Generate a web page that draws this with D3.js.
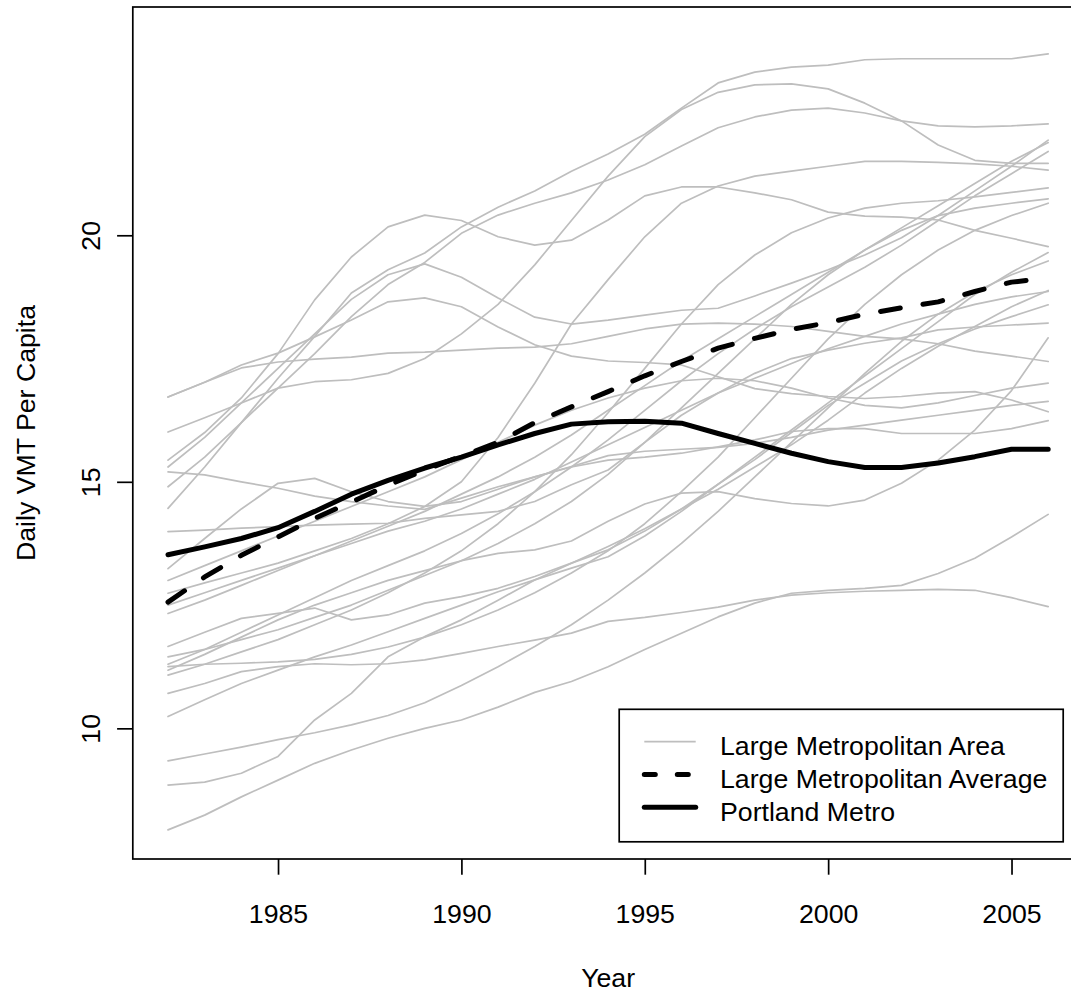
<!DOCTYPE html>
<html>
<head>
<meta charset="utf-8">
<script src="https://cdn.jsdelivr.net/npm/d3@7"></script>
<style>
  html, body { margin: 0; padding: 0; background: #ffffff; }
  svg { display: block; font-family: "Liberation Sans", Arial, Helvetica, sans-serif; }
</style>
</head>
<body>
<svg id="chart" width="1071" height="994"></svg>
<script>
// Years on the x axis
const years = [1982, 1983, 1984, 1985, 1986, 1987, 1988, 1989, 1990, 1991, 1992, 1993,
               1994, 1995, 1996, 1997, 1998, 1999, 2000, 2001, 2002, 2003, 2004, 2005, 2006];

const xTicks = [1985, 1990, 1995, 2000, 2005];
const yTicks = [10, 15, 20];

// Daily VMT per capita, one array per large metropolitan area (1982 .. 2006)
const area01 = [14.46, 15.30, 16.20, 17.10, 17.95, 18.83, 19.30, 19.64, 20.17, 20.57, 20.90, 21.30, 21.65, 22.05, 22.58, 23.09, 23.31, 23.41, 23.45, 23.56, 23.58, 23.58, 23.58, 23.58, 23.68];
const area02 = [16.01, 16.30, 16.60, 16.90, 17.03, 17.07, 17.20, 17.50, 18.00, 18.60, 19.40, 20.30, 21.20, 22.00, 22.55, 22.90, 23.05, 23.07, 22.97, 22.68, 22.32, 21.83, 21.52, 21.46, 21.46];
const area03 = [15.44, 16.00, 16.70, 17.60, 18.69, 19.56, 20.17, 20.41, 20.30, 19.97, 19.80, 19.90, 20.31, 20.80, 20.98, 20.98, 20.86, 20.72, 20.47, 20.39, 20.37, 20.31, 20.10, 19.94, 19.77];
const area04 = [14.90, 15.50, 16.20, 16.90, 17.60, 18.35, 19.00, 19.45, 20.04, 20.41, 20.65, 20.86, 21.12, 21.43, 21.81, 22.18, 22.40, 22.54, 22.58, 22.48, 22.32, 22.22, 22.20, 22.22, 22.26];
const area05 = [15.30, 15.90, 16.60, 17.30, 18.00, 18.70, 19.20, 19.42, 19.15, 18.73, 18.34, 18.20, 18.28, 18.38, 18.48, 18.52, 18.77, 19.03, 19.30, 19.60, 19.95, 20.40, 20.90, 21.40, 21.93];
const area06 = [16.72, 17.02, 17.37, 17.61, 17.94, 18.28, 18.65, 18.73, 18.55, 18.14, 17.78, 17.55, 17.45, 17.42, 17.37, 17.13, 16.89, 16.79, 16.73, 16.69, 16.73, 16.80, 16.83, 16.66, 16.42];
const area07 = [16.72, 17.02, 17.31, 17.43, 17.49, 17.53, 17.61, 17.63, 17.67, 17.71, 17.73, 17.80, 17.95, 18.10, 18.20, 18.22, 18.20, 18.15, 18.05, 17.95, 17.90, 17.80, 17.65, 17.55, 17.44];
const area08 = [15.20, 15.14, 15.00, 14.87, 14.71, 14.60, 14.51, 14.44, 14.67, 14.90, 15.10, 15.31, 15.53, 15.62, 15.66, 15.70, 15.78, 15.90, 16.05, 16.15, 16.25, 16.35, 16.45, 16.55, 16.63];
const area09 = [7.94, 8.24, 8.61, 8.95, 9.29, 9.56, 9.80, 10.00, 10.17, 10.43, 10.73, 10.95, 11.25, 11.60, 11.93, 12.26, 12.54, 12.74, 12.80, 12.84, 12.90, 13.14, 13.45, 13.88, 14.34];
const area10 = [10.71, 10.91, 11.15, 11.25, 11.31, 11.29, 11.31, 11.39, 11.52, 11.66, 11.79, 11.93, 12.17, 12.25, 12.35, 12.46, 12.60, 12.70, 12.75, 12.78, 12.80, 12.82, 12.80, 12.65, 12.47];
const area11 = [11.18, 11.50, 11.85, 12.20, 12.50, 12.75, 13.00, 13.20, 13.40, 13.55, 13.62, 13.80, 14.20, 14.55, 14.77, 14.80, 14.66, 14.56, 14.51, 14.63, 14.97, 15.44, 16.05, 16.85, 17.92];
const area12 = [13.99, 14.02, 14.06, 14.09, 14.12, 14.14, 14.16, 14.26, 14.33, 14.40, 14.60, 14.94, 15.24, 15.80, 16.35, 16.80, 17.20, 17.50, 17.67, 17.81, 17.92, 18.08, 18.14, 18.18, 18.22];
const area13 = [11.30, 11.60, 11.95, 12.30, 12.65, 13.00, 13.30, 13.60, 13.95, 14.35, 14.80, 15.30, 15.85, 16.45, 17.05, 17.60, 18.10, 18.55, 18.95, 19.35, 19.80, 20.30, 20.80, 21.25, 21.70];
const area14 = [12.33, 12.60, 12.90, 13.20, 13.50, 13.80, 14.10, 14.40, 14.75, 15.10, 15.50, 15.95, 16.45, 16.95, 17.45, 17.90, 18.35, 18.80, 19.25, 19.70, 20.15, 20.60, 21.05, 21.50, 21.88];
const area15 = [12.74, 12.95, 13.15, 13.35, 13.60, 13.85, 14.15, 14.50, 15.00, 15.90, 17.00, 18.20, 19.10, 19.97, 20.65, 21.00, 21.20, 21.30, 21.40, 21.50, 21.50, 21.48, 21.45, 21.40, 21.32];
const area16 = [11.08, 11.30, 11.55, 11.80, 12.10, 12.40, 12.75, 13.15, 13.60, 14.15, 14.80, 15.55, 16.40, 17.30, 18.20, 19.00, 19.60, 20.05, 20.35, 20.55, 20.65, 20.70, 20.78, 20.87, 20.96];
const area17 = [13.24, 13.85, 14.45, 14.97, 15.07, 14.80, 14.60, 14.50, 14.60, 14.85, 15.10, 15.30, 15.44, 15.50, 15.58, 15.71, 15.85, 16.02, 16.08, 16.08, 15.98, 15.98, 15.98, 16.08, 16.24];
const area18 = [11.45, 11.60, 11.80, 12.00, 12.25, 12.50, 12.80, 13.10, 13.40, 13.75, 14.15, 14.60, 15.15, 15.80, 16.50, 17.20, 17.90, 18.60, 19.20, 19.70, 20.10, 20.40, 20.55, 20.65, 20.74];
const area19 = [11.25, 11.30, 11.32, 11.35, 11.40, 11.50, 11.65, 11.85, 12.10, 12.40, 12.75, 13.15, 13.60, 14.15, 14.80, 15.50, 16.30, 17.10, 17.90, 18.60, 19.20, 19.70, 20.10, 20.40, 20.65];
const area20 = [10.24, 10.58, 10.91, 11.18, 11.45, 11.69, 11.96, 12.23, 12.50, 12.77, 13.01, 13.25, 13.48, 13.90, 14.40, 14.95, 15.50, 16.05, 16.60, 17.15, 17.70, 18.25, 18.80, 19.25, 19.65];
const area21 = [9.34, 9.48, 9.62, 9.77, 9.91, 10.07, 10.26, 10.52, 10.87, 11.25, 11.66, 12.10, 12.60, 13.15, 13.75, 14.40, 15.10, 15.80, 16.50, 17.20, 17.85, 18.40, 18.85, 19.20, 19.48];
const area22 = [8.85, 8.91, 9.09, 9.43, 10.17, 10.71, 11.45, 11.86, 12.20, 12.60, 13.01, 13.35, 13.69, 14.05, 14.45, 14.85, 15.30, 15.75, 16.25, 16.80, 17.30, 17.75, 18.15, 18.55, 18.88];
const area23 = [12.50, 12.75, 13.00, 13.25, 13.50, 13.75, 14.00, 14.20, 14.45, 14.75, 15.05, 15.40, 15.75, 16.10, 16.45, 16.80, 17.10, 17.40, 17.70, 17.95, 18.20, 18.40, 18.60, 18.75, 18.86];
const area24 = [11.66, 11.95, 12.23, 12.33, 12.44, 12.20, 12.30, 12.54, 12.67, 12.84, 13.08, 13.35, 13.62, 14.00, 14.45, 14.95, 15.45, 16.00, 16.55, 17.00, 17.45, 17.80, 18.10, 18.35, 18.59];
const area25 = [13.00, 13.30, 13.60, 13.90, 14.20, 14.50, 14.80, 15.10, 15.45, 15.80, 16.15, 16.45, 16.70, 16.90, 17.05, 17.10, 17.05, 16.90, 16.70, 16.55, 16.50, 16.60, 16.75, 16.90, 17.00];

// Average across the large metropolitan areas
const metroAverage = [12.56, 13.07, 13.51, 13.88, 14.26, 14.59, 14.93, 15.24, 15.52, 15.80, 16.20, 16.52, 16.83, 17.15, 17.44, 17.71, 17.91, 18.09, 18.23, 18.40, 18.53, 18.65, 18.86, 19.05, 19.13];

// Portland metro
const portlandMetro = [13.52, 13.68, 13.85, 14.07, 14.40, 14.75, 15.03, 15.28, 15.50, 15.75, 15.98, 16.17, 16.22, 16.23, 16.19, 15.98, 15.78, 15.58, 15.41, 15.29, 15.29, 15.38, 15.51, 15.66, 15.66];

const legendLabels = ["Large Metropolitan Area", "Large Metropolitan Average", "Portland Metro"];

const areaSeries = [area01, area02, area03, area04, area05, area06, area07, area08, area09, area10,
                    area11, area12, area13, area14, area15, area16, area17, area18, area19, area20,
                    area21, area22, area23, area24, area25];

// ---- layout ----
const plot = { left: 132.8, right: 1083.4, top: 7, bottom: 859 };
const FONT = 26.7;
const GREY = "#BEBEBE";

const x = d3.scaleLinear().domain([1981.04, 2006.96]).range([plot.left, plot.right]);
const y = d3.scaleLinear().domain([7.35, 24.63]).range([plot.bottom, plot.top]);

const svg = d3.select("#chart");
svg.append("rect").attr("width", 1071).attr("height", 994).attr("fill", "#fff");

const line = d3.line()
  .x((d, i) => x(years[i]))
  .y(d => y(d));

const marks = svg.append("g");

// grey lines, one per metropolitan area
marks.selectAll("path.area")
  .data(areaSeries)
  .join("path")
  .attr("class", "area")
  .attr("d", line)
  .attr("fill", "none")
  .attr("stroke", GREY)
  .attr("stroke-width", 1.7)
  .attr("stroke-linejoin", "round")
  .attr("stroke-linecap", "round");

// dashed average
marks.append("path")
  .attr("d", line(metroAverage))
  .attr("fill", "none")
  .attr("stroke", "#000")
  .attr("stroke-width", 5)
  .attr("stroke-dasharray", "20 23")
  .attr("stroke-linejoin", "round")
  .attr("stroke-linecap", "round");

// Portland
marks.append("path")
  .attr("d", line(portlandMetro))
  .attr("fill", "none")
  .attr("stroke", "#000")
  .attr("stroke-width", 5)
  .attr("stroke-linejoin", "round")
  .attr("stroke-linecap", "round");

// plot frame
svg.append("rect")
  .attr("x", plot.left).attr("y", plot.top)
  .attr("width", plot.right - plot.left).attr("height", plot.bottom - plot.top)
  .attr("fill", "none").attr("stroke", "#000").attr("stroke-width", 1.7);

// x axis
const xAxis = svg.append("g")
  .attr("transform", `translate(0,${plot.bottom})`)
  .call(d3.axisBottom(x).tickValues(xTicks).tickSize(15.7).tickFormat(d3.format("d")));
xAxis.select(".domain").remove();
xAxis.selectAll(".tick line").attr("stroke", "#000").attr("stroke-width", 1.7);
xAxis.selectAll(".tick text")
  .attr("y", 64).attr("dy", null)
  .attr("fill", "#000")
  .style("font-size", FONT + "px")
  .style("font-family", "'Liberation Sans', Arial, sans-serif");

// y axis
const yAxis = svg.append("g")
  .attr("transform", `translate(${plot.left},0)`)
  .call(d3.axisLeft(y).tickValues(yTicks).tickSize(15.7));
yAxis.select(".domain").remove();
yAxis.selectAll(".tick line").attr("stroke", "#000").attr("stroke-width", 1.7);
yAxis.selectAll(".tick text")
  .attr("x", 0).attr("y", -(plot.left - 99.5)).attr("dy", null)
  .attr("transform", "rotate(-90)")
  .attr("text-anchor", "middle")
  .attr("fill", "#000")
  .style("font-size", FONT + "px")
  .style("font-family", "'Liberation Sans', Arial, sans-serif");

// axis titles
svg.append("text")
  .attr("x", (plot.left + plot.right) / 2).attr("y", 987)
  .attr("text-anchor", "middle")
  .style("font-size", FONT + "px")
  .text("Year");

svg.append("text")
  .attr("transform", `translate(35,${(plot.top + plot.bottom) / 2}) rotate(-90)`)
  .attr("text-anchor", "middle")
  .style("font-size", FONT + "px")
  .text("Daily VMT Per Capita");

// legend
const legend = svg.append("g");
legend.append("rect")
  .attr("x", 619.2).attr("y", 709.3)
  .attr("width", 444).attr("height", 132.5)
  .attr("fill", "#fff").attr("stroke", "#000").attr("stroke-width", 1.7);

const legendRows = [741.7, 774.5, 807.3];
const legendStyles = [
  { stroke: GREY, width: 1.7, dash: null },
  { stroke: "#000", width: 5, dash: "11 22" },
  { stroke: "#000", width: 5, dash: null }
];
legendLabels.forEach((label, i) => {
  legend.append("line")
    .attr("x1", 644.3).attr("x2", 695.7)
    .attr("y1", legendRows[i]).attr("y2", legendRows[i])
    .attr("stroke", legendStyles[i].stroke)
    .attr("stroke-width", legendStyles[i].width)
    .attr("stroke-dasharray", legendStyles[i].dash)
    .attr("stroke-linecap", i === 0 ? "butt" : "round");
  legend.append("text")
    .attr("x", 720).attr("y", legendRows[i] + 13.5)
    .style("font-size", FONT + "px")
    .text(label);
});
</script>
</body>
</html>
